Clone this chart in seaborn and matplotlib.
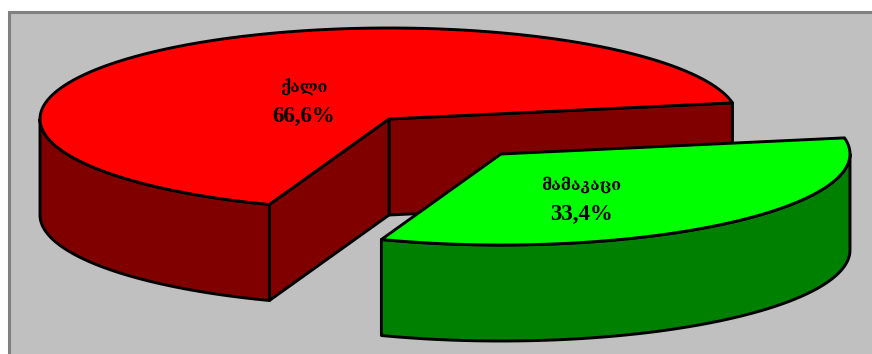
import numpy as np
import matplotlib
matplotlib.use("Agg")
import matplotlib.pyplot as plt
from matplotlib.patches import Polygon, Rectangle
import seaborn as sns

# Survey shares by gender
categories = ["ქალი", "მამაკაცი"]
shares = [66.6, 33.4]
share_labels = ["66,6%", "33,4%"]
top_colors = ["#ff0000", "#00ff00"]
side_colors = ["#800000", "#008000"]
panel_color = "#c0c0c0"
panel_edge = "#808080"

# Pie geometry in canvas pixels
center = (389.0, 119.0)
rx, ry = 349.0, 91.0
depth = 96.0
start_angle = 10.2
explode = [(0.0, 0.0), (112.0, 35.0)]

sns.set_style("white")
fig, ax = plt.subplots(figsize=(8.72, 3.54), dpi=100)
ax.set_position([0, 0, 1, 1])
ax.set_xlim(0, 872)
ax.set_ylim(354, 0)
ax.axis("off")

ax.add_patch(Rectangle((8.5, 11.5), 880, 360, facecolor=panel_color,
                       edgecolor=panel_edge, linewidth=2.2, zorder=0))


def rim(cx, cy, a0, a1):
    t = np.radians(np.linspace(a0, a1, 240))
    return np.column_stack([cx + rx * np.cos(t), cy - ry * np.sin(t)])


def wall(points, color, z):
    poly = np.vstack([points, (points + [0, depth])[::-1]])
    ax.add_patch(Polygon(poly, closed=True, facecolor=color, edgecolor="black",
                         linewidth=2.1, joinstyle="round", zorder=z))


angle = start_angle
for i, share in enumerate(shares):
    sweep = share / sum(shares) * 360.0
    a0, a1 = angle, angle + sweep
    cx, cy = center[0] + explode[i][0], center[1] + explode[i][1]
    z = 2 + i * 2
    apex = np.array([[cx, cy]])

    # Cut faces that look toward the viewer
    if i == 0:
        wall(np.vstack([apex, rim(cx, cy, a0, a0)[:1]]), side_colors[i], z)
        wall(np.vstack([apex, rim(cx, cy, a1, a1)[:1]]), side_colors[i], z)

    # Outer wall on the front half of the ellipse only
    vis0, vis1 = max(a0, 180.0), min(a1, 360.0)
    if vis1 > vis0:
        wall(rim(cx, cy, vis0, vis1), side_colors[i], z)

    top = np.vstack([apex, rim(cx, cy, a0, a1)])
    ax.add_patch(Polygon(top, closed=True, facecolor=top_colors[i], edgecolor="black",
                         linewidth=2.1, joinstyle="round", zorder=z + 1))
    angle = a1

text_pos = [(304, 88, 116), (581, 185, 214)]
for name, label, (x, y0, y1) in zip(categories, share_labels, text_pos):
    ax.text(x, y0, name, ha="center", va="center", fontsize=11.5, fontweight="bold",
            family=["DejaVu Serif", "DejaVu Sans"], color="black", zorder=10)
    ax.text(x, y1, label, ha="center", va="center", fontsize=16.5, fontweight="bold",
            family=["Liberation Serif"], color="black", zorder=10)

fig.savefig("out.png", dpi=100, facecolor="white")
